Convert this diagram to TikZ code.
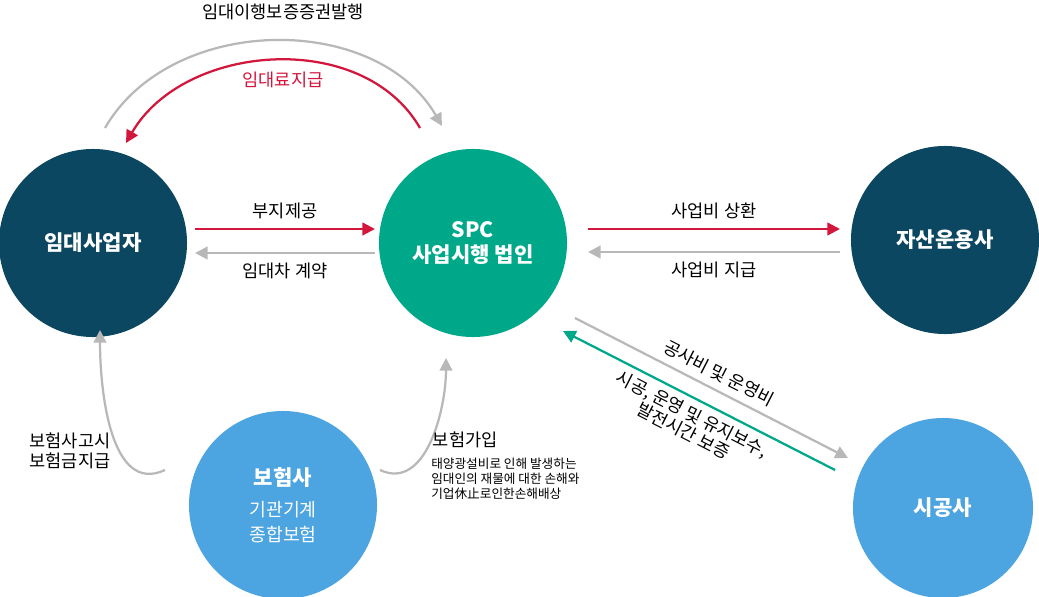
\documentclass[tikz,border=0pt]{standalone}
\usepackage{fontspec}
\setmainfont{Noto Sans CJK KR}
\usetikzlibrary{arrows.meta,positioning}
\definecolor{navy}{HTML}{0B4760}
\definecolor{teal}{HTML}{00A88A}
\definecolor{sky}{HTML}{4CA4E0}
\definecolor{redline}{HTML}{D2163C}
\definecolor{greyline}{HTML}{B8B8B8}
\newcommand{\subline}[1]{{\mdseries\fontsize{13}{16}\selectfont #1}}
\begin{document}
\begin{tikzpicture}[x=0.025cm,y=-0.025cm,
		party/.style={circle,minimum size=4.7cm,inner sep=0pt,text=white,font=\bfseries\fontsize{15}{18}\selectfont,align=center},
		flow/.style={line width=1.6pt,-{Triangle[length=9pt,width=9pt]}},
		lbl/.style={font=\fontsize{12.5}{15}\selectfont, text=black}
		]
		\useasboundingbox (0,0) rectangle (1039,597);
		
		\node[party, fill=navy](lessor) at (93,243){임대사업자};
		\node[party, fill=teal](spc) at (473,243){SPC\\사업시행 법인};
		\node[party, fill=navy](amc) at (945,240){자산운용사};
		\node[party, fill=sky](insurer) at (283,505){보험사\\[4pt]\subline{기관기계}\\\subline{종합보험}};
		\node[party, fill=sky, minimum size=4.5cm](builder) at (943,508){시공사};
		
		% horizontal flows
		\coordinate (a1) at (195,229); \coordinate (a2) at (375,229);
		\coordinate (b1) at (375,253); \coordinate (b2) at (195,253);
		\draw[flow, redline] (a1) -- (a2) node[midway, above=3pt, lbl]{부지제공};
		\draw[flow, greyline] (b1) -- (b2) node[midway, below=3pt, lbl]{임대차 계약};
		\coordinate (c1) at (588,229); \coordinate (c2) at (840,229);
		\coordinate (d1) at (840,252); \coordinate (d2) at (588,252);
		\draw[flow, redline] (c1) -- (c2) node[midway, above=3pt, lbl]{사업비 상환};
		\draw[flow, greyline] (d1) -- (d2) node[midway, below=3pt, lbl]{사업비 지급};
		
		% diagonal flows
		\coordinate (e1) at (575,318); \coordinate (e2) at (848,458);
		\coordinate (f1) at (835,470); \coordinate (f2) at (563,331);
		\draw[flow, greyline] (e1) -- (e2) node[midway, above=2pt, sloped, lbl]{공사비 및 운영비};
		\draw[flow, teal] (f1) -- (f2) node[midway, below=1pt, sloped, lbl, align=center, font=\fontsize{12.5}{13.5}\selectfont]{시공, 운영 및 유지보수,\\발전시간 보증};
		
		% arcs on top
		\coordinate (g1) at (105,128); \coordinate (g2) at (442,126);
		\coordinate (h1) at (420,128); \coordinate (h2) at (126,143);
		\draw[flow, greyline] (g1) to[out=60, in=120] (g2);
		\draw[flow, redline] (h1) to[out=120, in=60] (h2);
		\node[lbl](bond) at (283,12){임대이행보증증권발행};
		\node[lbl, text=redline](rent) at (283,80){임대료지급};
		
		% arcs from insurer
		\coordinate (i1) at (165,470); \coordinate (i2) at (100,330);
		\coordinate (j1) at (380,470); \coordinate (j2) at (446,358);
		\draw[flow, greyline] (i1) to[out=205, in=270] (i2);
		\draw[flow, greyline] (j1) to[out=-25, in=270] (j2);
		\node[lbl, align=center, font=\fontsize{12.5}{14}\selectfont](claim) at (70,451){보험사고시\\보험금지급};
		\node[lbl, anchor=west](join) at (428,440){보험가입};
		\node[anchor=north west, font=\fontsize{9}{10.5}\selectfont, align=left, inner sep=0pt](cover) at (431,458){태양광설비로 인해 발생하는\\임대인의 재물에 대한 손해와\\기업休止로인한손해배상};
	\end{tikzpicture}
\end{document}
